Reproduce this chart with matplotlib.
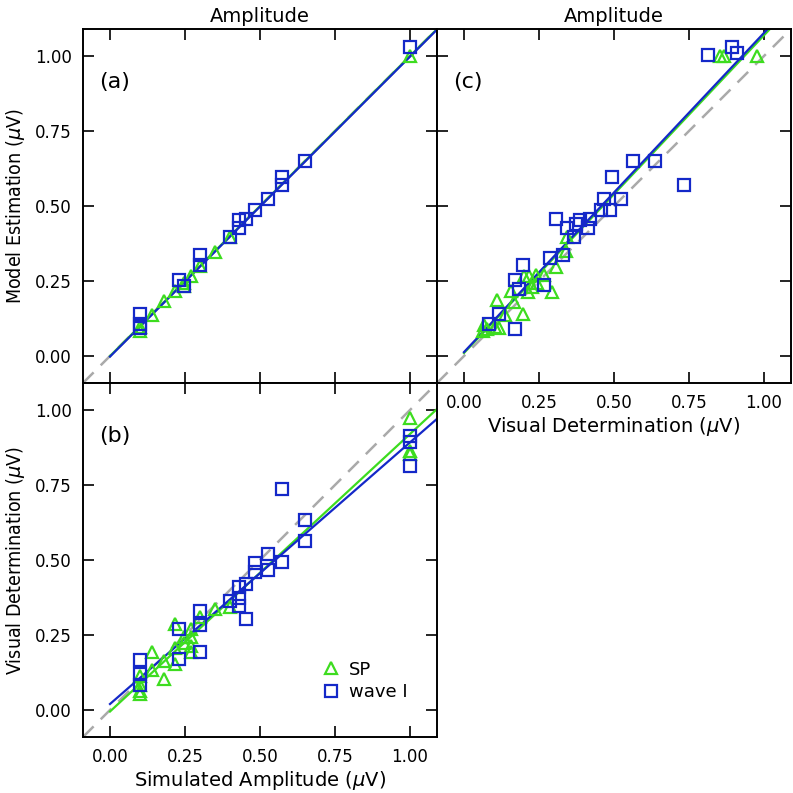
import matplotlib
matplotlib.use('Agg')
import matplotlib.pyplot as plt
import numpy as np

# (a) simulated amplitude vs model estimation
a_sp_x = [1.0, 0.40, 0.35, 0.30, 0.27, 0.245, 0.245, 0.215, 0.18, 0.14, 0.10, 0.10]
a_sp_y = [1.00, 0.397, 0.347, 0.300, 0.266, 0.243, 0.233, 0.216, 0.185, 0.138, 0.097, 0.083]
a_w1_x = [1.0, 0.65, 0.575, 0.575, 0.525, 0.485, 0.455, 0.43, 0.43, 0.40, 0.30, 0.30,
          0.23, 0.245, 0.10, 0.10, 0.10]
a_w1_y = [1.03, 0.649, 0.597, 0.569, 0.525, 0.486, 0.458, 0.452, 0.427, 0.397, 0.336, 0.305,
          0.252, 0.232, 0.141, 0.108, 0.092]

# (b) simulated amplitude vs visual determination
b_sp_x = [1.0, 1.0, 1.0, 0.40, 0.35, 0.30, 0.27, 0.27, 0.27, 0.27, 0.245, 0.245, 0.215,
          0.215, 0.215, 0.18, 0.18, 0.14, 0.14, 0.10, 0.10, 0.10, 0.10]
b_sp_y = [0.975, 0.864, 0.853, 0.342, 0.336, 0.309, 0.270, 0.242, 0.214, 0.192, 0.242,
          0.225, 0.287, 0.207, 0.153, 0.164, 0.103, 0.192, 0.134, 0.114, 0.085, 0.064, 0.053]
b_w1_x = [1.0, 1.0, 1.0, 0.575, 0.65, 0.65, 0.525, 0.485, 0.485, 0.525, 0.575, 0.455,
          0.43, 0.43, 0.43, 0.455, 0.40, 0.30, 0.30, 0.30, 0.23, 0.23, 0.10, 0.10, 0.10]
b_w1_y = [0.914, 0.892, 0.814, 0.737, 0.633, 0.564, 0.520, 0.489, 0.459, 0.467, 0.494,
          0.420, 0.411, 0.375, 0.348, 0.303, 0.364, 0.331, 0.283, 0.192, 0.270, 0.170,
          0.167, 0.120, 0.085]

# (c) visual determination vs model estimation
c_sp_x = [0.865, 0.854, 0.976, 0.344, 0.339, 0.308, 0.292, 0.267, 0.239, 0.217, 0.200,
          0.243, 0.227, 0.212, 0.156, 0.167, 0.198, 0.110, 0.136, 0.117, 0.104, 0.065,
          0.062, 0.075]
c_sp_y = [1.00, 1.00, 1.00, 0.397, 0.350, 0.297, 0.213, 0.269, 0.269, 0.266, 0.266,
          0.243, 0.230, 0.213, 0.216, 0.180, 0.141, 0.188, 0.138, 0.093, 0.097, 0.102,
          0.082, 0.090]
c_w1_x = [0.813, 0.893, 0.911, 0.734, 0.635, 0.564, 0.494, 0.522, 0.466, 0.455, 0.488,
          0.420, 0.413, 0.386, 0.374, 0.306, 0.344, 0.366, 0.331, 0.287, 0.195, 0.171,
          0.267, 0.184, 0.117, 0.171, 0.084]
c_w1_y = [1.002, 1.030, 1.011, 0.569, 0.649, 0.649, 0.597, 0.525, 0.525, 0.488, 0.486,
          0.458, 0.427, 0.452, 0.441, 0.458, 0.427, 0.397, 0.336, 0.327, 0.302, 0.252,
          0.236, 0.224, 0.141, 0.091, 0.108]

# regression lines (slope, intercept)
fit_a = {'sp': (1.0, 0.0), 'w1': (1.0, -0.002)}
fit_b = {'sp': (0.925, -0.005), 'w1': (0.872, 0.020)}
fit_c = {'sp': (1.059, 0.010), 'w1': (1.064, 0.013)}

ticks = [0.0, 0.25, 0.5, 0.75, 1.0]
tick_labels = ['0.00', '0.25', '0.50', '0.75', '1.00']
lim = (-0.09, 1.09)

green = '#3ddc1f'
blue = '#1428c8'
grey = '#aaaaaa'

fig = plt.figure(figsize=(7.93, 7.93), dpi=100)
L, W = 83 / 793, 354 / 793
ax_a = fig.add_axes([L, 1 - 383 / 793, W, W])
ax_b = fig.add_axes([L, 1 - 737 / 793, W, W])
ax_c = fig.add_axes([437 / 793, 1 - 383 / 793, W, W])


def draw(ax, sp_x, sp_y, w1_x, w1_y, fit, label):
    xx = np.array([lim[0], lim[1]])
    ax.plot(xx, xx, ls=(0, (6, 4)), color=grey, lw=1.8, zorder=1)
    xf = np.array([0.0, lim[1]])
    ax.plot(xf, fit['sp'][0] * xf + fit['sp'][1], color=green, lw=1.6, zorder=2)
    ax.plot(xf, fit['w1'][0] * xf + fit['w1'][1], color=blue, lw=1.6, zorder=2)
    ax.plot(sp_x, sp_y, ls='none', marker='^', ms=8, mfc='none', mec=green, mew=1.6,
            label='SP', zorder=3)
    ax.plot(w1_x, w1_y, ls='none', marker='s', ms=8, mfc='none', mec=blue, mew=1.6,
            label='wave I', zorder=3)
    ax.set_xlim(lim)
    ax.set_ylim(lim)
    ax.set_xticks(ticks)
    ax.set_yticks(ticks)
    ax.set_xticklabels(tick_labels)
    ax.set_yticklabels(tick_labels)
    ax.tick_params(direction='in', length=8, width=1.2, top=True, right=True,
                   labelsize=12, pad=8)
    for s in ax.spines.values():
        s.set_linewidth(1.4)
    ax.text(0.045, 0.85, label, transform=ax.transAxes, fontsize=16, va='center')


draw(ax_a, a_sp_x, a_sp_y, a_w1_x, a_w1_y, fit_a, '(a)')
draw(ax_b, b_sp_x, b_sp_y, b_w1_x, b_w1_y, fit_b, '(b)')
draw(ax_c, c_sp_x, c_sp_y, c_w1_x, c_w1_y, fit_c, '(c)')

ax_a.tick_params(labelbottom=False)
ax_c.tick_params(labelleft=False)

ax_a.set_title('Amplitude', fontsize=14, pad=5)
ax_c.set_title('Amplitude', fontsize=14, pad=5)

ax_a.set_ylabel('Model Estimation ($\\mu$V)', fontsize=14, fontstretch='condensed',
                labelpad=6)
ax_b.set_ylabel('Visual Determination ($\\mu$V)', fontsize=14, fontstretch='condensed',
                labelpad=6)
ax_b.set_xlabel('Simulated Amplitude ($\\mu$V)', fontsize=14, labelpad=2)
ax_c.set_xlabel('Visual Determination ($\\mu$V)', fontsize=14, labelpad=2)

ax_b.legend(loc='lower left', bbox_to_anchor=(0.63, 0.055), frameon=False, fontsize=13,
            handlelength=1.0, handletextpad=0.5, labelspacing=0.25)

fig.savefig('out.png', dpi=100)
